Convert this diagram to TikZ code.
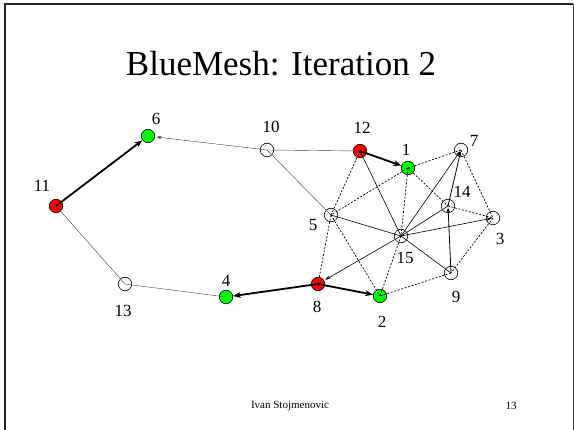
\documentclass[tikz,border=0pt]{standalone}
\usepackage{fontspec}
\setmainfont{Liberation Serif}
\usetikzlibrary{arrows.meta}
\begin{document}
\begin{tikzpicture}[x=1pt,y=-1pt,
  nd/.style={circle,draw=black,line width=0.6pt,minimum size=13.5pt,inner sep=0pt},
  wn/.style={nd,fill=white},
  rn/.style={nd,fill=red},
  gn/.style={nd,fill=green},
  lbl/.style={font=\fontsize{17}{17}\selectfont,inner sep=0pt},
  fineline/.style={line width=0.4pt,draw=black!75},
  midline/.style={line width=0.6pt,draw=black},
  dsh/.style={line width=0.7pt,draw=black,dash pattern=on 2pt off 1.6pt},
  bold/.style={line width=1.8pt,draw=black,-{Stealth[length=8pt,width=6pt]}},
  tip/.style={-{Stealth[length=5pt,width=3.5pt]},shorten >=1.5pt}
]
\useasboundingbox (0,0) rectangle (574,430);
% slide frame
\draw[line width=2pt,black!85] (5,430) -- (5,4.5) -- (573,4.5);
\draw[line width=1pt,black!70] (573,4.5) -- (573,430);
% title and footer
\node[font=\fontsize{35}{35}\selectfont,anchor=base] (title) at (281,76) {BlueMesh: Iteration 2};
\node[font=\fontsize{11}{11}\selectfont] (author) at (290,406) {Ivan Stojmenovic};
\node[font=\fontsize{11}{11}\selectfont] (page) at (511,406) {13};
% nodes
\node[gn] (n6) at (148,136) {};
\node[wn] (n10) at (267,150) {};
\node[rn] (n12) at (360,151) {};
\node[gn] (n1) at (408,168) {};
\node[wn] (n7) at (461,150) {};
\node[wn] (n14) at (448,206) {};
\node[wn] (n3) at (493,218) {};
\node[wn] (n5) at (331,215) {};
\node[wn] (n15) at (401,236) {};
\node[wn] (n9) at (451,273) {};
\node[rn] (n8) at (318,284) {};
\node[gn] (n2) at (380,296) {};
\node[gn] (n4) at (226,297) {};
\node[wn] (n13) at (125,284) {};
\node[rn] (n11) at (56,206) {};
% labels
\node[lbl] (l6) at (156,119) {6};
\node[lbl] (l10) at (271,127) {10};
\node[lbl] (l11) at (42,186) {11};
\node[lbl] (l13) at (123,311) {13};
\node[lbl] (l4) at (226,281) {4};
\node[lbl] (l12) at (362,128) {12};
\node[lbl] (l1) at (406,150) {1};
\node[lbl] (l7) at (474,141) {7};
\node[lbl] (l14) at (462,192) {14};
\node[lbl] (l5) at (313,225) {5};
\node[lbl] (l15) at (405,258) {15};
\node[lbl] (l3) at (500,239) {3};
\node[lbl] (l9) at (456,297) {9};
\node[lbl] (l8) at (317,307) {8};
\node[lbl] (l2) at (382,322) {2};
% thin outer links
\draw[fineline,tip] (n10.center) -- (n6);
\draw[fineline] (n10.center) -- (n12.center);
\draw[fineline] (n10.center) -- (n5.center);
\draw[fineline] (n11.center) -- (n13.center);
\draw[fineline] (n13.center) -- (n4.center);
% solid links in the cluster
\draw[midline] (n12.center) -- (n15.center);
\draw[midline] (n5.center) -- (n15.center);
\draw[midline,tip] (n15.center) -- (n7.center);
\draw[midline] (n15.center) -- (n14.center);
\draw[midline,tip] (n15.center) -- (n3.center);
\draw[midline] (n15.center) -- (n9.center);
\draw[midline,tip] (n15.center) -- (n8);
\draw[midline,line width=0.8pt,tip] (n9.center) -- (n14.center);
\draw[midline,line width=0.8pt,tip] (n14.center) -- (n7.center);
% dashed links
\draw[dsh] (n12.center) -- (n5.center);
\draw[dsh] (n1.center) -- (n5.center);
\draw[dsh] (n1.center) -- (n15.center);
\draw[dsh] (n1.center) -- (n7.center);
\draw[dsh] (n1.center) -- (n14.center);
\draw[dsh] (n7.center) -- (n3.center);
\draw[dsh] (n14.center) -- (n3.center);
\draw[dsh] (n3.center) -- (n9.center);
\draw[dsh] (n9.center) -- (n2.center);
\draw[dsh] (n15.center) -- (n2.center);
\draw[dsh] (n5.center) -- (n8.center);
\draw[dsh] (n5.center) -- (n2.center);
% thick arrows
\draw[bold] (n11.center) -- (n6);
\draw[bold] (n12.center) -- (n1);
\draw[bold] (n8.center) -- (n4);
\draw[bold] (n8.center) -- (n2);
\end{tikzpicture}
\end{document}
